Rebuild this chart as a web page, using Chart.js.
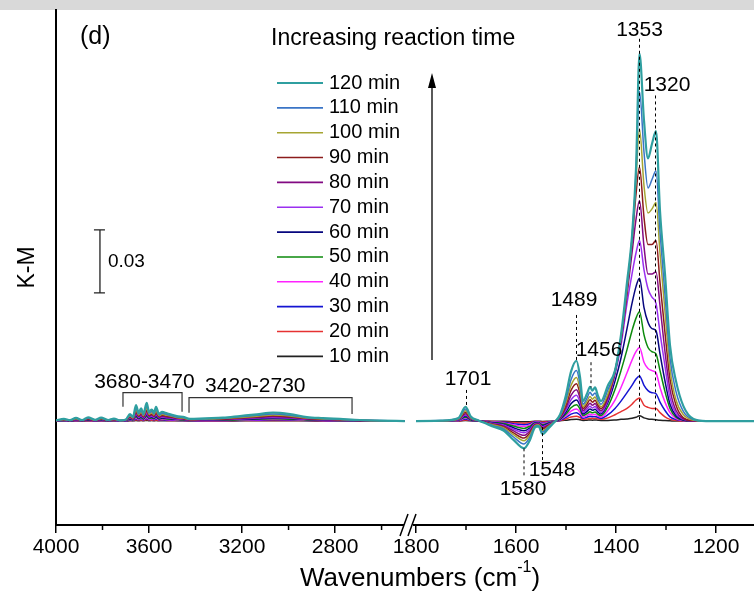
<!DOCTYPE html>
<html>
<head>
<meta charset="utf-8">
<script src="https://cdn.jsdelivr.net/npm/chart.js@4.4.1/dist/chart.umd.min.js"></script>
<style>
  html, body { margin: 0; padding: 0; background: #fff; }
  #wrap { width: 754px; height: 603px; }
</style>
</head>
<body>
<div id="wrap"><canvas id="myChart" width="754" height="603"></canvas></div>
<script>
const ctx = document.getElementById("myChart").getContext("2d");
const FONT = "'Liberation Sans', Arial, sans-serif";

// legend order (top to bottom), 120 min is drawn on top
const seriesLabels = ["120 min", "110 min", "100 min", "90 min", "80 min", "70 min",
  "60 min", "50 min", "40 min", "30 min", "20 min", "10 min"];
const seriesColors = ["#2f9fa0", "#3a74c6", "#a6a532", "#8c1c1c", "#820a82", "#9a2ff0",
  "#06067e", "#0b8a0b", "#ff22ff", "#1414d2", "#e63232", "#222222"];

// tick labels of the broken wavenumber axis
const leftTicks = [4000, 3600, 3200, 2800];
const leftMinor = [3800, 3400, 3000, 2600];
const rightTicks = [1800, 1600, 1400, 1200];
const rightMinor = [1700, 1500, 1300];

// wavenumbers (cm-1), K-M values below are in units of 0.001
const wnLeft = [4000, 3966, 3940, 3914, 3888, 3862, 3832, 3806, 3776, 3751,
  3725, 3699, 3682, 3669, 3656, 3645, 3634, 3624, 3610, 3600,
  3588, 3579, 3570, 3557, 3544, 3523, 3497, 3475, 3454, 3424,
  3359, 3282, 3209, 3136, 3067, 2994, 2921, 2852, 2779, 2693, 2607, 2500];
const wnRight = [1800, 1750, 1715, 1701, 1690, 1675, 1660, 1645, 1625, 1605,
  1584, 1572, 1562, 1555, 1547, 1535, 1525, 1512, 1500, 1490,
  1479, 1472, 1466, 1458, 1452, 1447, 1442, 1436, 1430, 1416,
  1402, 1390, 1378, 1368, 1360, 1353, 1344, 1336, 1328, 1320,
  1312, 1302, 1292, 1280, 1265, 1245, 1220, 1124];

const min10L = [0,0,0,0,0,0.1,0,0,0,0, 0,0,0.1,0.1,0.2,0.1,0.2,0.1,0.3,0.1, 0.2,0.1,0.2,0.1,0.1,0.1,0.1,0.1,0.1,0, 0,0,0.1,0.1,0.1,0.1,0.1,0,0,0, 0,0];
const min20L = [0,0.1,0,0.1,0,0.1,0,0.1,0,0.1, 0,0.1,0.3,0.2,0.6,0.3,0.5,0.3,0.7,0.4, 0.4,0.3,0.5,0.3,0.4,0.3,0.2,0.2,0.2,0.1, 0.1,0.1,0.2,0.3,0.3,0.3,0.2,0.1,0.1,0, 0,0];
const min30L = [0,0.1,0.1,0.2,0.1,0.3,0.1,0.2,0.1,0.2, 0,0.1,0.5,0.3,1.1,0.6,0.8,0.5,1.2,0.6, 0.8,0.6,1,0.5,0.6,0.5,0.4,0.3,0.3,0.1, 0.2,0.2,0.3,0.4,0.6,0.5,0.3,0.2,0.1,0.1, 0,0];
const min40L = [0.1,0.2,0.1,0.3,0.1,0.4,0.1,0.3,0.1,0.2, 0.1,0.2,0.7,0.4,1.5,0.8,1.2,0.7,1.7,0.9, 1.1,0.8,1.4,0.7,0.9,0.7,0.6,0.4,0.4,0.2, 0.3,0.3,0.5,0.6,0.8,0.7,0.4,0.3,0.2,0.1, 0,0];
const min50L = [0.1,0.3,0.1,0.4,0.1,0.5,0.2,0.4,0.1,0.3, 0.1,0.2,0.9,0.5,2.1,1.1,1.6,0.9,2.3,1.2, 1.5,1.1,1.8,0.9,1.2,1,0.8,0.6,0.5,0.3, 0.4,0.4,0.6,0.9,1.1,0.9,0.5,0.4,0.3,0.1, 0.1,0];
const min60L = [0.1,0.4,0.1,0.5,0.2,0.6,0.2,0.6,0.2,0.4, 0.1,0.3,1.2,0.7,2.7,1.4,2.1,1.2,3,1.6, 1.9,1.4,2.4,1.2,1.5,1.3,1,0.8,0.7,0.4, 0.5,0.6,0.8,1.1,1.4,1.2,0.7,0.5,0.4,0.2, 0.1,0];
const min70L = [0.1,0.4,0.2,0.6,0.2,0.8,0.3,0.7,0.2,0.5, 0.1,0.3,1.4,0.9,3.3,1.7,2.6,1.5,3.7,1.9, 2.4,1.7,2.9,1.5,1.9,1.6,1.2,0.9,0.9,0.4, 0.6,0.7,1,1.4,1.7,1.4,0.8,0.6,0.4,0.2, 0.1,0];
const min80L = [0.2,0.5,0.2,0.8,0.3,0.9,0.3,0.8,0.3,0.6, 0.2,0.4,1.7,1,4,2.1,3.1,1.8,4.5,2.3, 2.9,2.1,3.5,1.8,2.3,1.9,1.5,1.1,1,0.5, 0.7,0.8,1.2,1.7,2.1,1.7,1,0.7,0.5,0.3, 0.1,0];
const min90L = [0.2,0.6,0.2,0.9,0.3,1.1,0.4,1,0.3,0.7, 0.2,0.5,2,1.2,4.7,2.5,3.7,2.2,5.3,2.8, 3.4,2.5,4.2,2.2,2.7,2.3,1.8,1.4,1.2,0.6, 0.8,1,1.5,2,2.5,2,1.2,0.9,0.6,0.3, 0.1,0];
const min100L = [0.2,0.7,0.3,1.1,0.4,1.3,0.4,1.2,0.4,0.9, 0.2,0.6,2.4,1.4,5.5,2.9,4.3,2.5,6.2,3.2, 4,2.9,4.9,2.5,3.2,2.7,2.1,1.6,1.4,0.7, 0.9,1.2,1.7,2.3,2.9,2.4,1.4,1,0.7,0.4, 0.1,0];
const min110L = [0.3,0.8,0.3,1.3,0.4,1.5,0.5,1.3,0.4,1, 0.3,0.7,2.8,1.7,6.4,3.4,5,2.9,7.2,3.8, 4.6,3.4,5.7,2.9,3.7,3.1,2.4,1.8,1.7,0.8, 1.1,1.3,2,2.7,3.4,2.8,1.6,1.2,0.8,0.4, 0.2,0];
const min120L = [0.3,1,0.4,1.5,0.5,1.8,0.6,1.6,0.5,1.2, 0.3,0.8,3.3,2,7.6,4,6,3.5,8.6,4.5, 5.5,4,6.8,3.5,4.4,3.7,2.9,2.2,2,1, 1.3,1.6,2.4,3.2,4,3.3,1.9,1.4,1,0.5, 0.2,0];

const min10R = [0,0,0,0.2,0.1,0,0,-0.1,-0.1,-0.3, -0.4,-0.3,-0.1,-0.1,-0.2,-0.1,0,0.1,0.4,0.7, 0.9,0.6,0.3,0.4,0.5,0.4,0.5,0.4,0.3,0.3, 0.5,0.8,1,1.3,1.8,2.5,1.5,1,0.8,0.6, 0.4,0.2,0.1,0,0,0,0,0];
const min20R = [0,0,0.1,0.5,0.2,0,-0.1,-0.2,-0.4,-0.7, -1,-0.7,-0.2,-0.2,-0.5,-0.3,-0.1,0.2,1,1.9, 2.3,1.7,0.8,1,1.3,1.2,1.3,1,0.8,1.5, 3,4.5,6,8,10,11,7.5,6.5,6,6, 4,2,0.8,0.3,0,0,0,0];
const min30R = [0,0,0.2,1,0.3,0,-0.2,-0.4,-0.6,-1.3, -1.8,-1.3,-0.4,-0.4,-0.9,-0.5,-0.1,0.4,1.7,3.3, 4,2.9,1.3,1.8,2.3,2,2.2,1.7,1.3,3, 6,9.5,13.5,17,20,21.5,17,14.5,13.5,13, 9,5,2,0.7,0.2,0,0,0];
const min40R = [0,0,0.3,1.4,0.4,0.1,-0.2,-0.5,-0.9,-1.8, -2.6,-1.8,-0.6,-0.5,-1.2,-0.7,-0.2,0.6,2.5,4.7, 5.7,4.2,1.9,2.6,3.3,2.9,3.2,2.4,1.9,5, 10,16,23,29,33,35,28,25,24,23, 16,9,4,1.2,0.3,0,0,0];
const min50R = [0,0.1,0.4,1.8,0.5,0.1,-0.3,-0.7,-1.2,-2.4, -3.5,-2.4,-0.8,-0.7,-1.7,-0.9,-0.3,0.8,3.3,6.3, 7.7,5.7,2.6,3.5,4.4,3.9,4.3,3.2,2.6,7, 15,24,34,43,49,52,41,35,33,32, 24,14,6,1.8,0.4,0,0,0];
const min60R = [0,0.1,0.5,2.4,0.7,0.1,-0.4,-0.9,-1.6,-3.2, -4.6,-3.2,-1,-0.9,-2.2,-1.2,-0.4,1,4.3,8.2, 10,7.4,3.3,4.6,5.7,5.1,5.6,4.2,3.3,9, 19,30,44,56,64,68,54,47,44,43, 32,19,8,2.5,0.5,0,0,0];
const min70R = [0,0.1,0.6,2.9,0.9,0.1,-0.5,-1.2,-1.9,-3.9, -5.6,-3.9,-1.3,-1.1,-2.7,-1.5,-0.4,1.3,5.3,10.1, 12.3,9,4.1,5.6,7,6.2,6.9,5.2,4.1,10, 22,36,56,70,80,86,72,63,59,56, 42,26,11,3.5,0.8,0,0,0];
const min80R = [0,0.1,0.8,3.5,1,0.2,-0.6,-1.4,-2.3,-4.7, -6.8,-4.7,-1.6,-1.3,-3.2,-1.8,-0.5,1.6,6.4,12.2, 14.9,10.9,4.9,6.8,8.5,7.5,8.3,6.2,4.9,11, 23,38,60,80,96,105,83,70,70,71, 55,33,15,5,1,0,0,0];
const min90R = [0,0.1,0.9,4.2,1.2,0.2,-0.7,-1.7,-2.8,-5.6, -8.1,-5.6,-1.9,-1.6,-3.8,-2.2,-0.6,1.9,7.7,14.6, 17.8,13,5.9,8.1,10.1,9,9.9,7.4,5.9,12, 23.5,39,62,85,108,121,97,84,84,86, 66,42,20,7.5,1.5,0.2,0,0];
const min100R = [0,0.1,1.1,4.9,1.4,0.2,-0.9,-1.9,-3.2,-6.5, -9.4,-6.5,-2.2,-1.8,-4.5,-2.5,-0.7,2.2,8.9,16.9, 20.7,15.1,6.8,9.4,11.7,10.4,11.5,8.6,6.8,13, 24,40,63,87,115,139,112,99,101,104, 80,52,25,10,3,0.4,0,0];
const min110R = [0,0.2,1.3,5.7,1.7,0.3,-1,-2.3,-3.8,-7.6, -10.9,-7.6,-2.5,-2.1,-5.2,-2.9,-0.8,2.5,10.4,19.7, 24.1,17.6,8,10.9,13.7,12.2,13.4,10.1,8,15, 24,40,64,87,118,157,128,111,115,119, 90,60,30,14,4.5,0.7,0,0];
const min120R = [0,0.2,1.5,6.8,2,0.3,-1.2,-2.7,-4.5,-9, -13,-9,-3,-2.5,-6.2,-3.5,-1,3,12.4,23.5, 28.7,21,9.5,13,16.3,14.5,16,12,9.5,17, 24,41,66,88,120,175,143,125,132,138, 100,70,36,19,7,1,0,0];

const leftSeries = [min120L, min110L, min100L, min90L, min80L, min70L, min60L, min50L, min40L, min30L, min20L, min10L];
const rightSeries = [min120R, min110R, min100R, min90R, min80R, min70R, min60R, min50R, min40R, min30R, min20R, min10R];

// peak labels: label position (wn, value) and dashed line (wn, from, to)
const peakMarks = [
  { text: "1353", lx: 1353, ly: 186, x: 1353, y1: 182, y2: 0 },
  { text: "1320", lx: 1298, ly: 160, x: 1321, y1: 155, y2: 0 },
  { text: "1489", lx: 1484, ly: 57.6, x: 1479, y1: 50.5, y2: 29 },
  { text: "1456", lx: 1434, ly: 33.8, x: 1450, y1: 28, y2: 16 },
  { text: "1701", lx: 1696, ly: 20, x: 1699, y1: 14.8, y2: 7.6 },
  { text: "1580", lx: 1586, ly: -32.4, x: 1584, y1: -13, y2: -27 },
  { text: "1548", lx: 1528, ly: -23.3, x: 1547, y1: -2.9, y2: -18.6 },
];
// range brackets on the left segment
const brackets = [
  { text: "3680-3470", from: 3712, to: 3458, top: 13.5, legL: 6.8, legR: 4.4, lx: 3620, ly: 18.6 },
  { text: "3420-2730", from: 3428, to: 2727, top: 11.1, legL: 4, legR: 3.3, lx: 3143, ly: 16.7 },
];

const datasets = [];
seriesLabels.forEach((label, i) => {
  const common = {
    label: label,
    borderColor: seriesColors[i],
    borderWidth: i === 0 ? 2.2 : 1.5,
    pointRadius: 0,
    fill: false,
    cubicInterpolationMode: "monotone",
  };
  datasets.push(Object.assign({}, common, {
    xAxisID: "xl",
    data: wnLeft.map((w, j) => ({ x: w, y: leftSeries[i][j] })),
  }));
  datasets.push(Object.assign({}, common, {
    xAxisID: "xr",
    data: wnRight.map((w, j) => ({ x: w, y: rightSeries[i][j] })),
  }));
});

function txt(c, s, x, y, size, align) {
  c.font = size + "px " + FONT;
  c.fillStyle = "#000";
  c.textAlign = align || "center";
  c.textBaseline = "middle";
  c.fillText(s, x, y);
}

const decor = {
  id: "decor",
  beforeDraw(chart) {
    const c = chart.ctx;
    c.save();
    c.fillStyle = "#fff";
    c.fillRect(0, 0, chart.width, chart.height);
    c.fillStyle = "#d9d9d9";
    c.fillRect(0, 0, chart.width, 10);
    c.restore();
  },
  afterDatasetsDraw(chart) {
    const c = chart.ctx;
    const xl = chart.scales.xl, xr = chart.scales.xr, y = chart.scales.y;
    c.save();
    // dashed peak markers
    c.strokeStyle = "#000";
    c.lineWidth = 1;
    c.setLineDash([3, 3]);
    peakMarks.forEach((p) => {
      const px = xr.getPixelForValue(p.x);
      c.beginPath();
      c.moveTo(px, y.getPixelForValue(p.y1));
      c.lineTo(px, y.getPixelForValue(p.y2));
      c.stroke();
    });
    c.setLineDash([]);
    peakMarks.forEach((p) => {
      txt(c, p.text, xr.getPixelForValue(p.lx), y.getPixelForValue(p.ly), 21);
    });
    // brackets
    c.strokeStyle = "#333";
    c.lineWidth = 1.2;
    brackets.forEach((b) => {
      const a = xl.getPixelForValue(b.from), e = xl.getPixelForValue(b.to);
      c.beginPath();
      c.moveTo(a, y.getPixelForValue(b.legL));
      c.lineTo(a, y.getPixelForValue(b.top));
      c.lineTo(e, y.getPixelForValue(b.top));
      c.lineTo(e, y.getPixelForValue(b.legR));
      c.stroke();
      txt(c, b.text, xl.getPixelForValue(b.lx), y.getPixelForValue(b.ly), 21);
    });
    // scale bar 0.03
    const sx = xl.getPixelForValue(3811);
    const s1 = y.getPixelForValue(61), s2 = y.getPixelForValue(91);
    c.strokeStyle = "#222";
    c.lineWidth = 1.3;
    c.beginPath();
    c.moveTo(sx, s1); c.lineTo(sx, s2);
    c.moveTo(sx - 6, s1); c.lineTo(sx + 5, s1);
    c.moveTo(sx - 6, s2); c.lineTo(sx + 5, s2);
    c.stroke();
    txt(c, "0.03", sx + 8, (s1 + s2) / 2, 19, "left");
    // arrow
    const ax = xr.getPixelForValue(1768);
    const a1 = y.getPixelForValue(29), a2 = y.getPixelForValue(165.7);
    c.strokeStyle = "#000";
    c.lineWidth = 1.3;
    c.beginPath();
    c.moveTo(ax, a1); c.lineTo(ax, a2 + 10);
    c.stroke();
    c.fillStyle = "#000";
    c.beginPath();
    c.moveTo(ax, a2); c.lineTo(ax - 4, a2 + 15); c.lineTo(ax + 4, a2 + 15);
    c.closePath();
    c.fill();
    // legend
    seriesLabels.forEach((l, i) => {
      const ly = 83 + i * 24.85;
      c.strokeStyle = seriesColors[i];
      c.lineWidth = i === 0 ? 2 : 1.6;
      c.beginPath();
      c.moveTo(277, ly); c.lineTo(323, ly);
      c.stroke();
      txt(c, l, 329, ly, 20, "left");
    });
    txt(c, "(d)", 80, 37, 25, "left");
    txt(c, "Increasing reaction time", 271, 39, 23, "left");
    c.restore();
  },
  afterDraw(chart) {
    const c = chart.ctx;
    const xl = chart.scales.xl, xr = chart.scales.xr;
    const base = chart.chartArea.bottom;
    c.save();
    // minor ticks
    c.strokeStyle = "#000";
    c.lineWidth = 1.5;
    c.beginPath();
    leftMinor.forEach((v) => { const p = xl.getPixelForValue(v); c.moveTo(p, base); c.lineTo(p, base + 5); });
    rightMinor.forEach((v) => { const p = xr.getPixelForValue(v); c.moveTo(p, base); c.lineTo(p, base + 5); });
    c.stroke();
    // axis break
    c.fillStyle = "#fff";
    c.fillRect(404, base - 3, 9, 6);
    c.lineWidth = 1.5;
    c.beginPath();
    c.moveTo(400, base + 11); c.lineTo(408, base - 11);
    c.moveTo(408, base + 11); c.lineTo(416, base - 11);
    c.stroke();
    // x title with superscript
    const t1 = "Wavenumbers (cm", sup = "-1", t2 = ")";
    c.font = "26px " + FONT;
    const w1 = c.measureText(t1).width, w3 = c.measureText(t2).width;
    c.font = "16px " + FONT;
    const w2 = c.measureText(sup).width;
    let x0 = 420 - (w1 + w2 + w3) / 2;
    const ty = 579;
    txt(c, t1, x0, ty, 26, "left");
    txt(c, sup, x0 + w1, ty - 11, 16, "left");
    txt(c, t2, x0 + w1 + w2, ty, 26, "left");
    c.restore();
  },
};

function xAxis(min, max, weight, ticks) {
  return {
    type: "linear",
    position: "bottom",
    stack: "wn",
    stackWeight: weight,
    reverse: true,
    min: min,
    max: max,
    afterBuildTicks: (s) => { s.ticks = ticks.map((v) => ({ value: v })); },
    afterFit: (s) => { s.height = 78; s.paddingLeft = 0; s.paddingRight = 0; },
    ticks: { autoSkip: false, maxRotation: 0, padding: 2, color: "#000",
      font: { family: FONT, size: 21 }, callback: (v) => String(v) },
    grid: { drawOnChartArea: false, drawTicks: true, tickLength: 8, color: "#000", lineWidth: 1.5 },
    border: { display: true, color: "#000", width: 2 },
  };
}

const spectrum = new Chart(ctx, {
  type: "line",
  data: { datasets: datasets },
  options: {
    responsive: false,
    animation: false,
    devicePixelRatio: 1,
    layout: { padding: { top: 10, left: 0, right: 0, bottom: 0 } },
    plugins: { legend: { display: false }, tooltip: { enabled: false } },
    scales: {
      xl: xAxis(2452, 4000, 360, leftTicks),
      xr: xAxis(1124, 1800, 338, rightTicks),
      y: {
        min: -49.5,
        max: 195.7,
        afterFit: (s) => { s.width = 56; },
        ticks: { display: false },
        grid: { display: false },
        border: { display: true, color: "#000", width: 2 },
        title: { display: true, text: "K-M", color: "#000", font: { family: FONT, size: 23 }, padding: { top: 14, bottom: 0 } },
      },
    },
  },
  plugins: [decor],
});
</script>
</body>
</html>
